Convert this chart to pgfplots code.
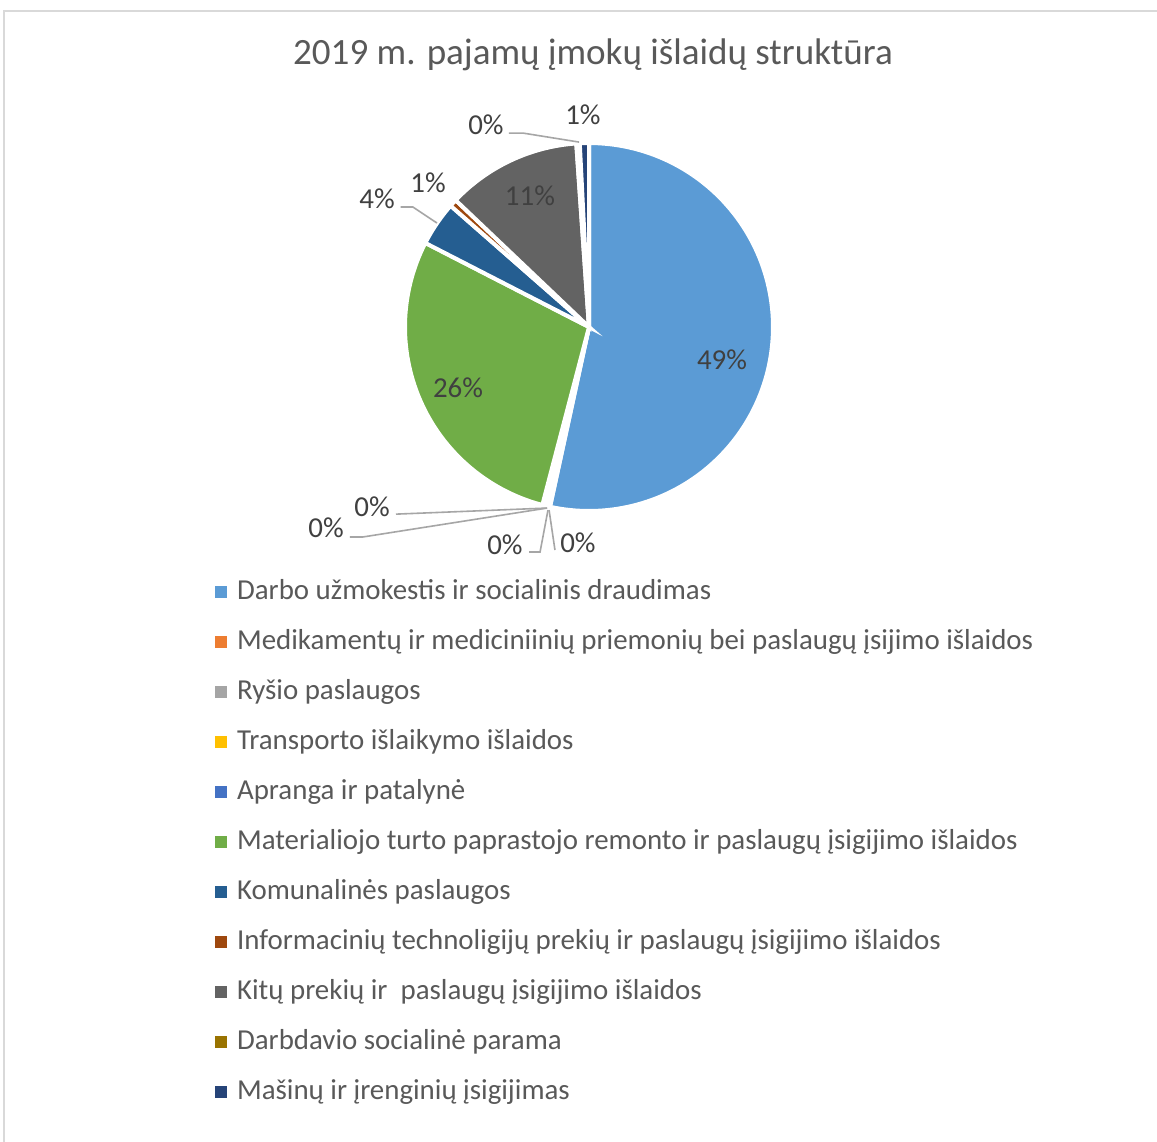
\documentclass[border=0pt]{standalone}
\usepackage{fontspec}
\setmainfont{Carlito}
\usepackage{pgfplots}
\pgfplotsset{compat=1.18}

\definecolor{c1}{HTML}{5B9BD5}
\definecolor{c2}{HTML}{ED7D31}
\definecolor{c3}{HTML}{A5A5A5}
\definecolor{c4}{HTML}{FFC000}
\definecolor{c5}{HTML}{4472C4}
\definecolor{c6}{HTML}{70AD47}
\definecolor{c7}{HTML}{255E91}
\definecolor{c8}{HTML}{9E480E}
\definecolor{c9}{HTML}{636363}
\definecolor{c10}{HTML}{997300}
\definecolor{c11}{HTML}{264478}
\definecolor{titlegray}{HTML}{595959}
\definecolor{labelgray}{HTML}{404040}
\definecolor{leadergray}{HTML}{A6A6A6}
\definecolor{framegray}{HTML}{D9D9D9}

% running total of the shares already drawn (percent)
\xdef\cum{0}
% \slice{colour}{share in percent}{legend text}
\newcommand\slice[3]{%
  \pgfmathsetmacro\startang{90-3.6*\cum}%
  \pgfmathsetmacro\newcum{\cum+#2}%
  \pgfmathsetmacro\endang{90-3.6*\newcum}%
  \xdef\cum{\newcum}%
  \edef\tmp{\noexpand\addplot[fill=#1, draw=white, line width=2bp,
    domain=\endang:\startang, samples=120]}%
  \tmp ({cos(x)}, {sin(x)}) -- (axis cs:0,0) -- cycle;
  \addlegendentry{#3}%
}

\tikzset{
  lbl/.style={text=labelgray, font=\fontsize{14.5}{16}\selectfont, inner sep=0pt},
  leader/.style={leadergray, line width=0.8bp},
}

\begin{document}
\begin{tikzpicture}
% picture is 1157 x 1142 px, 1 px = 0.5 bp, origin at top-left
\useasboundingbox (0,0) rectangle (578.5bp,-571bp);
\fill[white] (0,0) rectangle (578.5bp,-571bp);
\draw[framegray, line width=1bp] (2bp,-5.5bp) rectangle (590bp,-580bp);

\node[text=titlegray, font=\fontsize{18.6}{22}\selectfont] at (296.5bp,-27.5bp)
  {2019 m. pajamų įmokų išlaidų struktūra};

\begin{axis}[
  at={(294.5bp,-163.5bp)}, anchor=center,
  width=184bp, height=184bp, scale only axis,
  xmin=-1, xmax=1, ymin=-1, ymax=1,
  hide axis, clip=false,
  legend cell align=left,
  legend image code/.code={%
    \fill[#1, draw=none] (0bp,-3bp) rectangle (6bp,3bp);
    \path[draw=none, fill=none] (11.25bp,0bp);},
  legend style={at={(-0.5185,-0.185)}, anchor=north west,
    draw=none, fill=none, text=titlegray, inner sep=0pt,
    font=\fontsize{14.5}{16}\selectfont, row sep=12bp,
    nodes={inner sep=0pt, text height=10bp, text depth=3bp}},
]
\slice{c1}{53.4}{Darbo užmokestis ir socialinis draudimas}
\slice{c2}{0.17}{Medikamentų ir mediciniinių priemonių bei paslaugų įsijimo išlaidos}
\slice{c3}{0.17}{Ryšio paslaugos}
\slice{c4}{0.17}{Transporto išlaikymo išlaidos}
\slice{c5}{0.17}{Apranga ir patalynė}
\slice{c6}{28.47}{Materialiojo turto paprastojo remonto ir paslaugų įsigijimo išlaidos}
\slice{c7}{3.9}{Komunalinės paslaugos}
\slice{c8}{0.65}{Informacinių technoligijų prekių ir paslaugų įsigijimo išlaidos}
\slice{c9}{11.8}{Kitų prekių ir~ paslaugų įsigijimo išlaidos}
\slice{c10}{0.3}{Darbdavio socialinė parama}
\slice{c11}{0.8}{Mašinų ir įrenginių įsigijimas}

% leader lines
\draw[leader] (axis cs:-1.049,-1.017) -- (axis cs:-0.228,-0.984);
\draw[leader] (axis cs:-1.299,-1.141) -- (axis cs:-1.228,-1.141) -- (axis cs:-0.228,-0.984);
\draw[leader] (axis cs:-0.326,-1.223) -- (axis cs:-0.266,-1.223) -- (axis cs:-0.223,-0.995);
\draw[leader] (axis cs:-0.185,-1.212) -- (axis cs:-0.217,-0.995);
\draw[leader] (axis cs:-1.024,0.652) -- (axis cs:-0.957,0.652) -- (axis cs:-0.826,0.565);
\draw[leader] (axis cs:-0.435,1.054) -- (axis cs:-0.359,1.054) -- (axis cs:-0.054,1.005);

% data labels
\node[lbl] at (axis cs:0.723,-0.179) {49\%};
\node[lbl] at (axis cs:-0.712,-0.332) {26\%};
\node[lbl] at (axis cs:-0.321,0.712) {11\%};
\node[lbl] at (axis cs:-1.152,0.696) {4\%};
\node[lbl] at (axis cs:-0.875,0.783) {1\%};
\node[lbl] at (axis cs:-0.560,1.098) {0\%};
\node[lbl] at (axis cs:-0.033,1.152) {1\%};
\node[lbl] at (axis cs:-0.060,-1.174) {0\%};
\node[lbl] at (axis cs:-0.457,-1.185) {0\%};
\node[lbl] at (axis cs:-1.429,-1.092) {0\%};
\node[lbl] at (axis cs:-1.179,-0.978) {0\%};
\end{axis}
\end{tikzpicture}
\end{document}
